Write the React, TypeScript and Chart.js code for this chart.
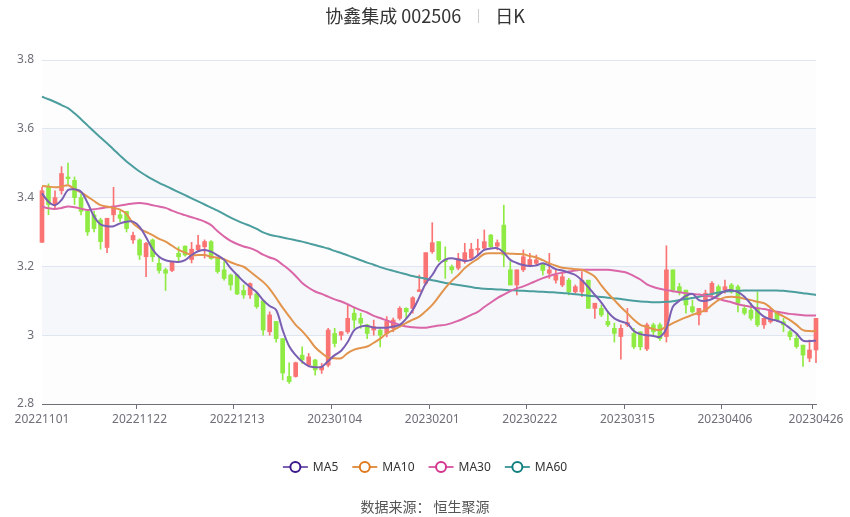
import React, { useEffect, useRef } from "react";
import { Chart, registerables } from "chart.js";

Chart.register(...registerables);

const dates: string[] = [
  "20221101","20221102","20221103","20221104","20221107","20221108","20221109","20221110","20221111","20221114",
  "20221115","20221116","20221117","20221118","20221121","20221122","20221123","20221124","20221125","20221128",
  "20221129","20221130","20221201","20221202","20221205","20221206","20221207","20221208","20221209","20221212",
  "20221213","20221214","20221215","20221216","20221219","20221220","20221221","20221222","20221223","20221226",
  "20221227","20221228","20221229","20221230","20230103","20230104","20230105","20230106","20230109","20230110",
  "20230111","20230112","20230113","20230116","20230117","20230118","20230119","20230120","20230130","20230131",
  "20230201","20230202","20230203","20230206","20230207","20230208","20230209","20230210","20230213","20230214",
  "20230215","20230216","20230217","20230220","20230221","20230222","20230223","20230224","20230227","20230228",
  "20230301","20230302","20230303","20230306","20230307","20230308","20230309","20230310","20230313","20230314",
  "20230315","20230316","20230317","20230320","20230321","20230322","20230323","20230324","20230327","20230328",
  "20230329","20230330","20230331","20230403","20230404","20230406","20230407","20230410","20230411","20230412",
  "20230413","20230414","20230417","20230418","20230419","20230420","20230421","20230424","20230425","20230426",
];

const tickLabels: string[] = [
  "20221101","20221122","20221213","20230104","20230201","20230222","20230315","20230406","20230426",
];

const openPrices: number[] = [
  3.27,3.43,3.38,3.42,3.46,3.45,3.40,3.36,3.35,3.335,
  3.255,3.35,3.35,3.36,3.277,3.277,3.228,3.277,3.209,3.19,
  3.188,3.238,3.259,3.22,3.248,3.257,3.272,3.223,3.19,3.175,
  3.175,3.13,3.117,3.12,3.10,3.01,3.04,2.99,2.88,2.88,
  2.942,2.913,2.928,2.899,2.913,3.005,3.0,3.01,3.064,3.049,
  3.03,3.015,3.015,3.005,3.02,3.049,3.078,3.078,3.127,3.151,
  3.243,3.272,3.219,3.199,3.195,3.214,3.224,3.248,3.253,3.291,
  3.259,3.32,3.19,3.146,3.19,3.204,3.209,3.207,3.18,3.16,
  3.146,3.16,3.126,3.126,3.16,3.078,3.078,3.04,3.02,2.996,
  3.03,3.005,3.01,2.96,3.03,3.03,2.996,3.19,3.141,3.131,
  3.083,3.059,3.068,3.122,3.141,3.131,3.146,3.141,3.078,3.073,
  3.078,3.03,3.039,3.064,3.039,3.01,2.991,2.971,2.933,2.957,
];

const closePrices: number[] = [
  3.42,3.38,3.40,3.47,3.455,3.40,3.36,3.30,3.31,3.272,
  3.34,3.375,3.34,3.31,3.29,3.233,3.267,3.228,3.188,3.18,
  3.214,3.228,3.233,3.25,3.262,3.272,3.223,3.185,3.165,3.146,
  3.12,3.117,3.15,3.083,3.015,3.059,2.99,2.89,2.865,2.92,
  2.928,2.937,2.899,2.909,3.015,2.976,3.01,3.049,3.044,3.035,
  3.005,3.025,3.0,3.04,3.044,3.078,3.068,3.109,3.132,3.24,
  3.269,3.219,3.214,3.19,3.223,3.24,3.25,3.252,3.272,3.257,
  3.269,3.233,3.146,3.19,3.228,3.22,3.219,3.188,3.19,3.175,
  3.17,3.126,3.141,3.16,3.078,3.093,3.059,3.03,3.005,3.02,
  3.037,2.966,2.966,3.03,3.01,2.99,3.19,3.131,3.126,3.088,
  3.068,3.078,3.122,3.151,3.117,3.141,3.126,3.093,3.064,3.049,
  3.03,3.049,3.073,3.044,3.03,2.996,2.967,2.942,2.957,3.049,
];

const highPrices: number[] = [
  3.43,3.44,3.42,3.49,3.50,3.46,3.41,3.365,3.36,3.34,
  3.34,3.43,3.36,3.36,3.30,3.28,3.27,3.28,3.228,3.195,
  3.215,3.257,3.26,3.27,3.29,3.277,3.275,3.225,3.214,3.178,
  3.178,3.146,3.152,3.122,3.10,3.068,3.04,2.99,2.92,2.922,
  2.966,2.947,2.93,2.918,3.02,3.02,3.011,3.088,3.078,3.064,
  3.032,3.044,3.02,3.054,3.05,3.083,3.08,3.112,3.175,3.24,
  3.327,3.272,3.257,3.204,3.238,3.267,3.267,3.279,3.306,3.293,
  3.277,3.378,3.214,3.19,3.248,3.238,3.233,3.209,3.238,3.19,
  3.18,3.165,3.146,3.185,3.16,3.093,3.088,3.068,3.035,3.03,
  3.078,3.02,3.01,3.035,3.035,3.035,3.26,3.19,3.151,3.131,
  3.102,3.078,3.131,3.156,3.146,3.16,3.151,3.146,3.088,3.093,
  3.126,3.049,3.078,3.068,3.049,3.015,3.005,2.971,2.986,3.049,
];

const lowPrices: number[] = [
  3.27,3.35,3.37,3.41,3.44,3.38,3.35,3.29,3.30,3.25,
  3.24,3.33,3.33,3.30,3.267,3.22,3.17,3.214,3.18,3.13,
  3.185,3.214,3.23,3.21,3.243,3.224,3.22,3.18,3.16,3.131,
  3.118,3.107,3.107,3.078,3.0,3.0,2.98,2.87,2.86,2.878,
  2.918,2.908,2.884,2.889,2.908,2.966,2.986,3.005,3.02,3.02,
  2.99,3.0,2.966,2.995,3.01,3.044,3.049,3.064,3.127,3.146,
  3.238,3.214,3.165,3.18,3.19,3.209,3.219,3.233,3.248,3.255,
  3.248,3.199,3.146,3.117,3.185,3.199,3.204,3.175,3.165,3.151,
  3.141,3.117,3.122,3.112,3.078,3.049,3.054,3.025,2.98,2.93,
  3.025,2.961,2.957,2.955,3.0,2.985,2.98,3.126,3.117,3.064,
  3.064,3.03,3.068,3.107,3.112,3.122,3.122,3.068,3.059,3.044,
  3.025,3.02,3.035,3.039,3.01,2.986,2.962,2.909,2.923,2.92,
];

const ma5: number[] = [
  3.412,3.388,3.378,3.393,3.422,3.424,3.417,3.385,3.345,3.322,
  3.317,3.317,3.325,3.330,3.330,3.315,3.285,3.250,3.228,3.218,
  3.214,3.213,3.218,3.233,3.244,3.248,3.243,3.232,3.219,3.195,
  3.175,3.156,3.140,3.125,3.102,3.085,3.073,3.015,2.968,2.942,
  2.923,2.910,2.907,2.908,2.925,2.942,2.955,2.980,3.015,3.025,
  3.027,3.022,3.022,3.022,3.025,3.030,3.048,3.073,3.110,3.150,
  3.175,3.205,3.220,3.224,3.220,3.216,3.219,3.232,3.248,3.252,
  3.253,3.240,3.219,3.210,3.204,3.201,3.203,3.209,3.202,3.192,
  3.188,3.182,3.175,3.160,3.140,3.117,3.095,3.068,3.049,3.040,
  3.034,3.012,3.003,3.000,2.998,2.995,3.020,3.083,3.100,3.114,
  3.120,3.102,3.100,3.105,3.117,3.128,3.131,3.125,3.112,3.090,
  3.070,3.054,3.046,3.042,3.034,3.020,3.005,2.984,2.983,2.984,
];

const ma10: number[] = [
  3.434,3.432,3.430,3.432,3.436,3.425,3.415,3.403,3.390,3.378,
  3.374,3.370,3.365,3.352,3.325,3.310,3.300,3.291,3.280,3.272,
  3.260,3.248,3.240,3.233,3.233,3.233,3.228,3.225,3.221,3.212,
  3.205,3.199,3.185,3.170,3.155,3.135,3.108,3.080,3.055,3.030,
  3.012,2.990,2.965,2.948,2.935,2.933,2.933,2.948,2.958,2.963,
  2.967,2.978,2.990,3.005,3.015,3.025,3.036,3.045,3.054,3.070,
  3.088,3.112,3.137,3.158,3.175,3.195,3.210,3.222,3.236,3.238,
  3.238,3.238,3.237,3.236,3.235,3.230,3.226,3.218,3.209,3.202,
  3.196,3.194,3.192,3.190,3.182,3.170,3.145,3.122,3.102,3.082,
  3.064,3.045,3.030,3.024,3.018,3.015,3.025,3.035,3.044,3.052,
  3.059,3.066,3.073,3.088,3.102,3.110,3.112,3.110,3.106,3.102,
  3.097,3.093,3.080,3.064,3.055,3.044,3.030,3.015,3.012,3.012,
];

const ma30: number[] = [
  3.374,3.369,3.367,3.370,3.374,3.372,3.368,3.364,3.366,3.369,
  3.372,3.374,3.377,3.380,3.383,3.384,3.382,3.378,3.374,3.370,
  3.362,3.355,3.349,3.343,3.337,3.330,3.320,3.302,3.287,3.274,
  3.265,3.258,3.253,3.245,3.234,3.226,3.219,3.205,3.190,3.172,
  3.152,3.138,3.127,3.120,3.112,3.104,3.098,3.090,3.081,3.073,
  3.066,3.056,3.050,3.043,3.036,3.030,3.025,3.023,3.022,3.022,
  3.025,3.028,3.030,3.035,3.042,3.050,3.059,3.068,3.082,3.095,
  3.108,3.118,3.128,3.136,3.142,3.150,3.158,3.166,3.172,3.178,
  3.182,3.185,3.188,3.190,3.190,3.190,3.190,3.190,3.188,3.185,
  3.181,3.172,3.162,3.148,3.140,3.135,3.131,3.128,3.125,3.122,
  3.120,3.118,3.115,3.112,3.106,3.100,3.096,3.090,3.086,3.082,
  3.079,3.076,3.072,3.068,3.065,3.062,3.060,3.058,3.057,3.057,
];

const ma60: number[] = [
  3.693,3.686,3.678,3.669,3.660,3.645,3.628,3.610,3.592,3.575,
  3.558,3.540,3.522,3.505,3.490,3.476,3.464,3.453,3.443,3.434,
  3.425,3.416,3.407,3.398,3.389,3.380,3.371,3.362,3.352,3.342,
  3.333,3.325,3.318,3.309,3.299,3.292,3.288,3.284,3.280,3.276,
  3.272,3.267,3.262,3.257,3.252,3.245,3.239,3.232,3.225,3.218,
  3.211,3.205,3.198,3.192,3.187,3.182,3.177,3.172,3.168,3.164,
  3.160,3.156,3.152,3.149,3.146,3.143,3.140,3.137,3.135,3.134,
  3.133,3.132,3.131,3.130,3.129,3.128,3.127,3.126,3.125,3.124,
  3.123,3.121,3.119,3.117,3.115,3.113,3.111,3.109,3.107,3.105,
  3.102,3.100,3.098,3.097,3.096,3.096,3.097,3.099,3.102,3.105,
  3.108,3.112,3.116,3.120,3.124,3.127,3.128,3.129,3.130,3.130,
  3.130,3.130,3.130,3.130,3.129,3.127,3.125,3.122,3.120,3.117,
];

const yTicks: number[] = [2.8, 3.0, 3.2, 3.4, 3.6, 3.8];

const seriesNames: string[] = ["MA5", "MA10", "MA30", "MA60"];
const lineColors: string[] = ["#7A5FB2", "#E3944C", "#DA66A8", "#4C9E9E"];
const markColors: string[] = ["#3D1A8C", "#E07A1E", "#D4358F", "#117F7F"];

const UP = "#FB7474";
const DOWN = "#8FEB44";
const FONT = "'Noto Sans', 'Noto Sans CJK SC', sans-serif";
const CJK = "'Noto Sans CJK SC', 'Noto Sans', sans-serif";

export default function App() {
  const ref = useRef<HTMLCanvasElement | null>(null);

  useEffect(() => {
    const canvas = ref.current;
    if (!canvas) return;
    const candleColors = closePrices.map((c, i) => (c >= openPrices[i] ? UP : DOWN));
    const shown = (i: number) => tickLabels.includes(dates[i]);

    const splitArea = {
      id: "splitArea",
      beforeDraw(chart: any) {
        const { ctx, chartArea, scales } = chart;
        const y = scales.y;
        ctx.save();
        for (let k = 0; k < yTicks.length - 1; k++) {
          const top = y.getPixelForValue(yTicks[k + 1]);
          const bot = y.getPixelForValue(yTicks[k]);
          ctx.fillStyle = k % 2 === 0 ? "rgba(250,250,250,0.3)" : "rgba(210,219,238,0.22)";
          ctx.fillRect(chartArea.left, top, chartArea.right - chartArea.left, bot - top);
        }
        ctx.restore();
      },
    };

    const texts = {
      id: "texts",
      afterDraw(chart: any) {
        const { ctx, width } = chart;
        const cx = width / 2;
        ctx.save();
        // title
        ctx.textBaseline = "middle";
        ctx.font = `18px ${CJK}`;
        const a = "协鑫集成 002506";
        const b = "日K";
        const wa = ctx.measureText(a).width;
        const wb = ctx.measureText(b).width;
        const gap = 17;
        const total = wa + gap * 2 + wb;
        const x = cx - total / 2;
        ctx.fillStyle = "#333";
        ctx.textAlign = "left";
        ctx.fillText(a, x, 16);
        ctx.strokeStyle = "#ccc";
        ctx.lineWidth = 1;
        ctx.beginPath();
        ctx.moveTo(Math.round(x + wa + gap) + 0.5, 9);
        ctx.lineTo(Math.round(x + wa + gap) + 0.5, 23);
        ctx.stroke();
        ctx.fillText(b, x + wa + gap * 2, 16);

        // legend
        ctx.font = `12px ${FONT}`;
        const iconW = 25;
        const widths = seriesNames.map((n) => iconW + 5 + ctx.measureText(n).width);
        const itemGap = 14;
        const totalL = widths.reduce((s, w) => s + w, 0) + itemGap * (widths.length - 1);
        let lx = cx - totalL / 2;
        const ly = 467;
        seriesNames.forEach((n, i) => {
          ctx.strokeStyle = lineColors[i];
          ctx.lineWidth = 2;
          ctx.beginPath();
          ctx.moveTo(lx, ly);
          ctx.lineTo(lx + iconW, ly);
          ctx.stroke();
          ctx.beginPath();
          ctx.arc(lx + iconW / 2, ly, 5, 0, Math.PI * 2);
          ctx.fillStyle = "#fff";
          ctx.fill();
          ctx.strokeStyle = markColors[i];
          ctx.lineWidth = 2;
          ctx.stroke();
          ctx.fillStyle = "#333";
          ctx.textAlign = "left";
          ctx.fillText(n, lx + iconW + 5, ly + 1);
          lx += widths[i] + itemGap;
        });

        // footer
        ctx.font = `14px ${CJK}`;
        ctx.fillStyle = "#555";
        ctx.textAlign = "center";
        ctx.fillText("数据来源： 恒生聚源", cx, 507);
        ctx.restore();
      },
    };

    const lineSets = [ma5, ma10, ma30, ma60].map((d, i) => ({
      type: "line" as const,
      label: seriesNames[i],
      data: d,
      borderColor: lineColors[i],
      backgroundColor: lineColors[i],
      borderWidth: 2,
      pointRadius: 0,
      tension: 0.35,
      fill: false,
      order: 0,
    }));

    const chart = new Chart(canvas, {
      data: {
        labels: dates,
        datasets: [
          ...lineSets,
          {
            type: "bar" as const,
            label: "body",
            data: openPrices.map((o, i) => [Math.min(o, closePrices[i]), Math.max(o, closePrices[i])]) as any,
            backgroundColor: candleColors,
            borderWidth: 0,
            barThickness: 4,
            minBarLength: 1,
            grouped: false,
            clip: false as any,
            order: 1,
          },
          {
            type: "bar" as const,
            label: "wick",
            data: lowPrices.map((l, i) => [l, highPrices[i]]) as any,
            backgroundColor: candleColors,
            borderWidth: 0,
            barThickness: 1,
            grouped: false,
            clip: false as any,
            order: 2,
          },
        ],
      },
      options: {
        animation: false,
        responsive: false,
        devicePixelRatio: 1,
        layout: { padding: { left: 0, right: 34, top: 60, bottom: 83 } },
        plugins: {
          legend: { display: false },
          title: { display: false },
          tooltip: { enabled: false },
        },
        scales: {
          x: {
            type: "category",
            offset: false,
            grid: {
              display: true,
              drawOnChartArea: false,
              drawTicks: true,
              tickLength: 5,
              color: (c: any) => (shown(c.index) ? "#6E7079" : "rgba(0,0,0,0)"),
            },
            border: { display: true, color: "#6E7079", width: 1 },
            ticks: {
              autoSkip: false,
              maxRotation: 0,
              minRotation: 0,
              padding: 3,
              color: "#6E7079",
              font: { size: 12, family: FONT },
              callback: (_v: any, i: number) => (shown(i) ? dates[i] : ""),
            },
            afterFit: (s: any) => {
              s.height = 30;
            },
          },
          y: {
            min: 2.8,
            max: 3.8,
            ticks: {
              stepSize: 0.2,
              padding: 8,
              color: "#6E7079",
              font: { size: 12, family: FONT },
              callback: (v: any) => String(Math.round(Number(v) * 10) / 10),
            },
            grid: { color: "#E0E6F1", drawTicks: false, lineWidth: 1 },
            border: { display: false },
            afterFit: (s: any) => {
              s.width = 42;
            },
          },
        },
      } as any,
      plugins: [splitArea, texts],
    });
    return () => chart.destroy();
  }, []);

  return (
    <div style={{ position: "absolute", left: 0, top: 0, width: 850, height: 517, background: "#fff" }}>
      <canvas ref={ref} width={850} height={517} style={{ display: "block", width: 850, height: 517 }} />
    </div>
  );
}
